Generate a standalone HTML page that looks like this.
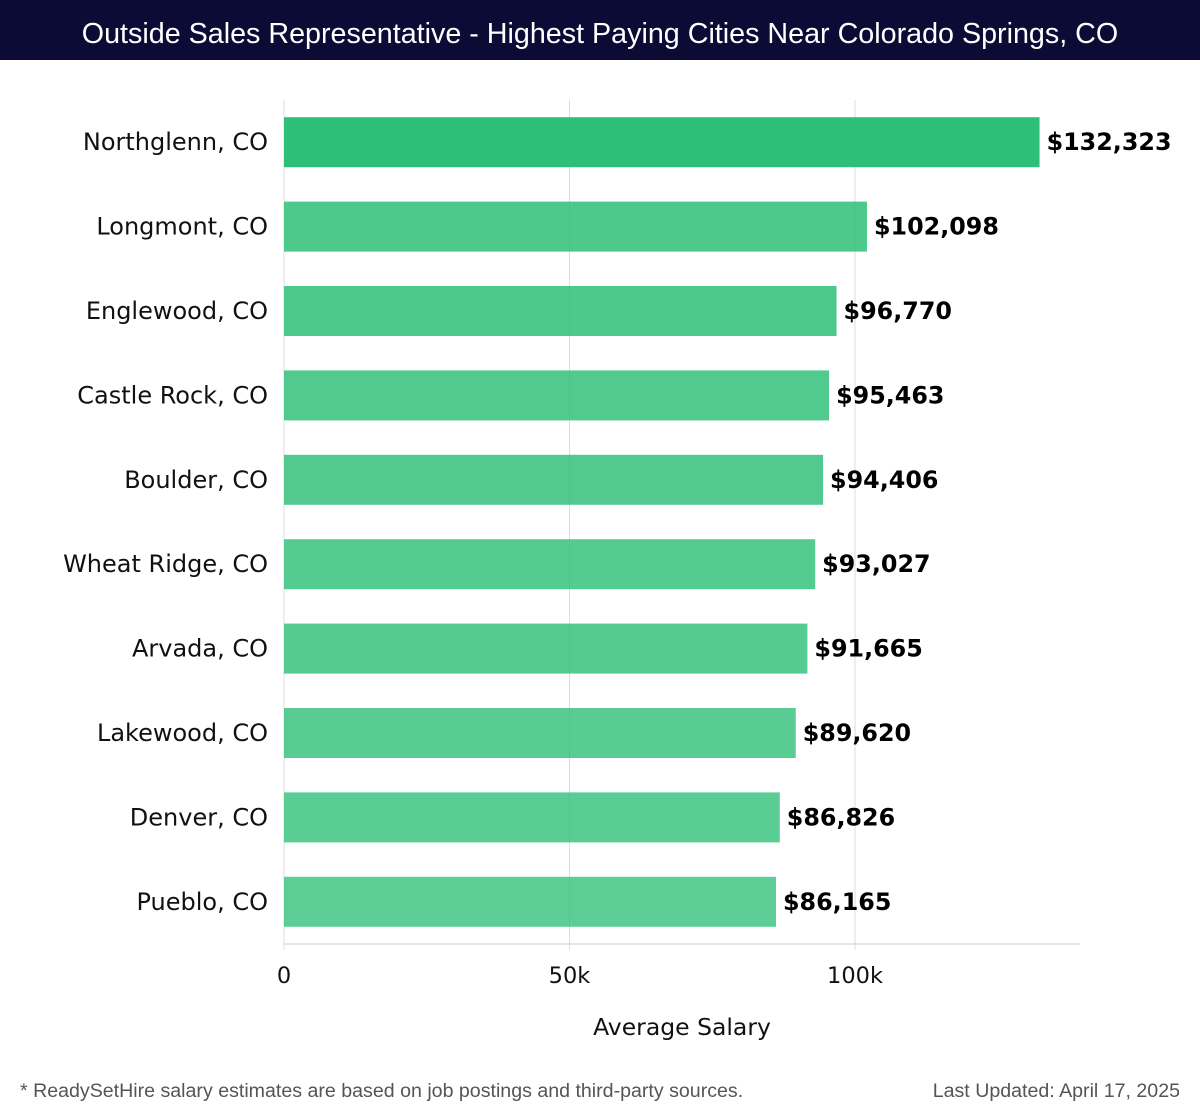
<!DOCTYPE html>
<html><head><meta charset="utf-8"><style>
body{margin:0;width:1200px;height:1120px;background:#fff;overflow:hidden;font-family:"DejaVu Sans","Liberation Sans",sans-serif;}
#title{position:absolute;left:0;top:0;width:1200px;height:60px;background:#0c0b35;color:#fff;font-family:"Liberation Sans",sans-serif;font-size:28.7px;line-height:68px;text-align:center;}
#foot-l{position:absolute;left:20px;top:1080px;font-family:"Liberation Sans",sans-serif;font-size:19.6px;color:#555;}
#foot-r{position:absolute;right:20px;top:1080px;font-family:"Liberation Sans",sans-serif;font-size:19.6px;color:#555;}
</style></head><body>
<div id="title">Outside Sales Representative - Highest Paying Cities Near Colorado Springs, CO</div>
<svg id="chart" width="1200" height="1120" style="position:absolute;left:0;top:0"></svg>
<div id="foot-l">* ReadySetHire salary estimates are based on job postings and third-party sources.</div>
<div id="foot-r">Last Updated: April 17, 2025</div>
<script>
const categories=["Northglenn, CO","Longmont, CO","Englewood, CO","Castle Rock, CO","Boulder, CO","Wheat Ridge, CO","Arvada, CO","Lakewood, CO","Denver, CO","Pueblo, CO"];
const values=[132323,102098,96770,95463,94406,93027,91665,89620,86826,86165];
const tickValues=[0,50000,100000];
const tickLabels=["0","50k","100k"];
const NS="http://www.w3.org/2000/svg";
const svg=document.getElementById('chart');
const x0=284,pxPer=571/100000,top0=100,bottom=944,band=84.4,barH=50;
const xs=v=>x0+v*pxPer;
const yb=i=>top0+i*band+(band-barH)/2;
function mk(t,a){const e=document.createElementNS(NS,t);for(const k in a)e.setAttribute(k,a[k]);svg.appendChild(e);return e;}
tickValues.forEach((v,i)=>{
 const g=mk('line',{x1:xs(v),x2:xs(v),y1:top0,y2:bottom+6,stroke:'#ddd','stroke-width':1});
 
 
 const t=mk('text',{x:xs(v),y:983,'text-anchor':'middle','font-size':22.5,fill:'#111'});
 t.textContent=tickLabels[i];
 
 
});
const ax=mk('line',{x1:x0,x2:1080,y1:bottom,y2:bottom,stroke:'#ccc','stroke-width':1});


categories.forEach((c,i)=>{
 const y=yb(i);
 const r=mk('rect',{x:x0,y:y,width:xs(values[i])-x0,height:barH,fill:'#2dbf77','fill-opacity':i===0?1:(0.86-i*0.009)});
 
 
 const l=mk('text',{x:268,y:y+barH/2+8,'text-anchor':'end','font-size':24,fill:'#111'});
 l.textContent=c;
 
 
 const v=mk('text',{x:xs(values[i])+7,y:y+barH/2+8,'font-size':23.8,'font-weight':'bold',fill:'#000'});
 v.textContent='$'+values[i].toLocaleString('en-US');
 
 
});
const at=mk('text',{x:682,y:1035,'text-anchor':'middle','font-size':23.5,fill:'#111'});
at.textContent='Average Salary';


</script>
</body></html>
